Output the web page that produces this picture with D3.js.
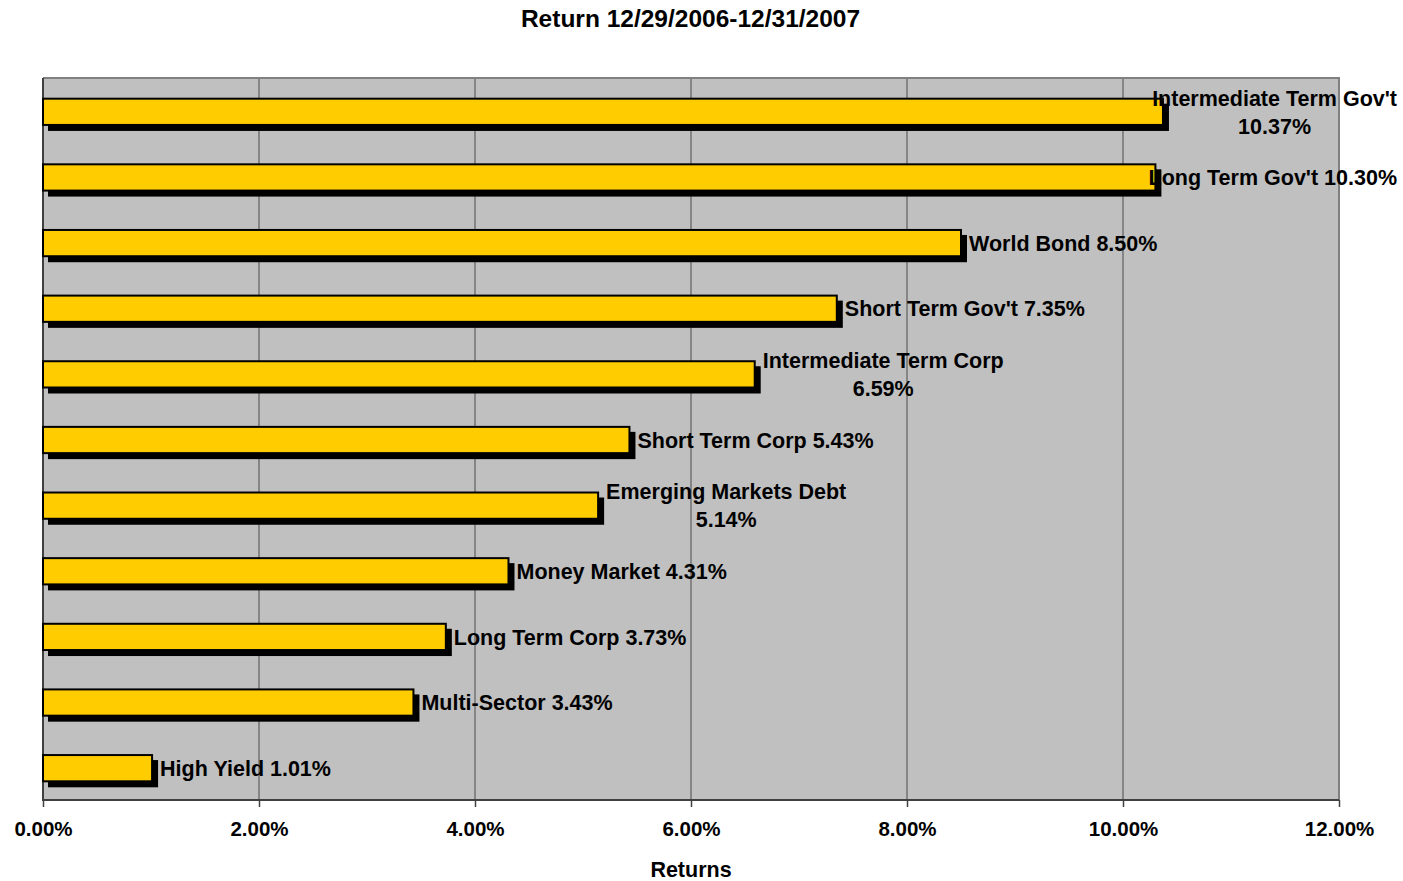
<!DOCTYPE html>
<html>
<head>
<meta charset="utf-8">
<script src="https://cdn.jsdelivr.net/npm/d3@7"></script>
<style>
  html, body { margin: 0; padding: 0; background: #fff; }
  svg { display: block; font-family: "Liberation Sans", Arial, sans-serif; }
</style>
</head>
<body>
<svg id="chart" width="1403" height="881"></svg>
<script>
// Fund category returns, top to bottom
const categories = [
  "Intermediate Term Gov't", "Long Term Gov't", "World Bond", "Short Term Gov't",
  "Intermediate Term Corp", "Short Term Corp", "Emerging Markets Debt",
  "Money Market", "Long Term Corp", "Multi-Sector", "High Yield"
];
const returns = [10.37, 10.30, 8.50, 7.35, 6.59, 5.43, 5.14, 4.31, 3.73, 3.43, 1.01];
// Categories whose data label breaks onto two lines
const wrapped = ["Intermediate Term Gov't", "Intermediate Term Corp", "Emerging Markets Debt"];
const xTicks = [0, 2, 4, 6, 8, 10, 12];
const titleText = "Return 12/29/2006-12/31/2007";
const xAxisTitle = "Returns";

const W = 1403, H = 881;
const plot = { left: 43, right: 1339, top: 78, bottom: 800 };

const svg = d3.select("#chart");

const x = d3.scaleLinear().domain([0, 12]).range([plot.left, plot.right]);
const y = d3.scaleBand().domain(categories)
  .range([plot.top + 1, plot.bottom + 1]).paddingInner(0.6).paddingOuter(0.3);

// Plot background
svg.append("rect")
  .attr("x", plot.left).attr("y", plot.top)
  .attr("width", plot.right - plot.left).attr("height", plot.bottom - plot.top)
  .attr("fill", "#c0c0c0");

// Vertical gridlines
svg.append("g").selectAll("line")
  .data(xTicks.filter(t => t > 0 && t < 12))
  .join("line")
  .attr("x1", d => x(d)).attr("x2", d => x(d))
  .attr("y1", plot.top).attr("y2", plot.bottom)
  .attr("stroke", "#4a4a4a").attr("stroke-width", 1);

// Plot frame: top and right edges
svg.append("path")
  .attr("d", `M${plot.left},${plot.top}H${plot.right}V${plot.bottom}`)
  .attr("fill", "none").attr("stroke", "#808080").attr("stroke-width", 2);

// Bottom axis
const xAxis = d3.axisBottom(x)
  .tickValues(xTicks)
  .tickFormat(d => d.toFixed(2) + "%")
  .tickSize(7)
  .tickPadding(14);
const gx = svg.append("g")
  .attr("transform", `translate(0,${plot.bottom})`)
  .call(xAxis);
gx.select(".domain").attr("stroke", "#404040").attr("stroke-width", 2)
  .attr("d", `M${plot.left},0H${plot.right}`);
gx.selectAll(".tick line").attr("stroke", "#404040").attr("stroke-width", 1.5);
gx.selectAll(".tick text")
  .attr("fill", "#000")
  .attr("font-size", 20.5).attr("font-weight", "bold")
  .attr("font-family", "Liberation Sans, Arial, sans-serif");

// Left axis line
svg.append("line")
  .attr("x1", plot.left).attr("x2", plot.left)
  .attr("y1", plot.top).attr("y2", plot.bottom + 1)
  .attr("stroke", "#404040").attr("stroke-width", 2);

// Bars with drop shadows
const bars = svg.append("g");
const rows = categories.map((c, i) => ({ name: c, value: returns[i] }));
bars.selectAll("rect.shadow")
  .data(rows).join("rect")
  .attr("class", "shadow")
  .attr("x", plot.left + 5)
  .attr("y", d => y(d.name) + 5)
  .attr("width", d => x(d.value) - plot.left + 1)
  .attr("height", y.bandwidth() + 1)
  .attr("fill", "#000");
bars.selectAll("rect.bar")
  .data(rows).join("rect")
  .attr("class", "bar")
  .attr("x", plot.left)
  .attr("y", d => y(d.name))
  .attr("width", d => x(d.value) - plot.left)
  .attr("height", y.bandwidth())
  .attr("fill", "#ffcc00")
  .attr("stroke", "#000").attr("stroke-width", 2);

// Data labels
const labelSize = 21.5, lineGap = 28, rightLimit = 1397;
const labels = svg.append("g")
  .attr("font-size", labelSize).attr("font-weight", "bold").attr("fill", "#000");
rows.forEach(d => {
  const cy = y(d.name) + y.bandwidth() / 2;
  const valueText = d.value.toFixed(2) + "%";
  const lines = wrapped.includes(d.name) ? [d.name, valueText] : [d.name + " " + valueText];
  const g = labels.append("g");
  const texts = lines.map((t, i) => g.append("text")
    .attr("y", cy + (i - (lines.length - 1) / 2) * lineGap)
    .attr("dy", "0.36em")
    .attr("text-anchor", "middle")
    .text(t));
  const widths = texts.map(t => t.node().getComputedTextLength());
  const blockW = Math.max(...widths);
  let left = x(d.value) + 8;
  if (left + blockW > rightLimit) left = rightLimit - blockW;
  texts.forEach(t => t.attr("x", left + blockW / 2));
});

// Chart title
svg.append("text")
  .attr("x", 690.5).attr("y", 27)
  .attr("text-anchor", "middle")
  .attr("font-size", 24.5).attr("font-weight", "bold")
  .text(titleText);

// Axis title
svg.append("text")
  .attr("x", 691).attr("y", 877)
  .attr("text-anchor", "middle")
  .attr("font-size", 21.5).attr("font-weight", "bold")
  .text(xAxisTitle);
</script>
</body>
</html>
